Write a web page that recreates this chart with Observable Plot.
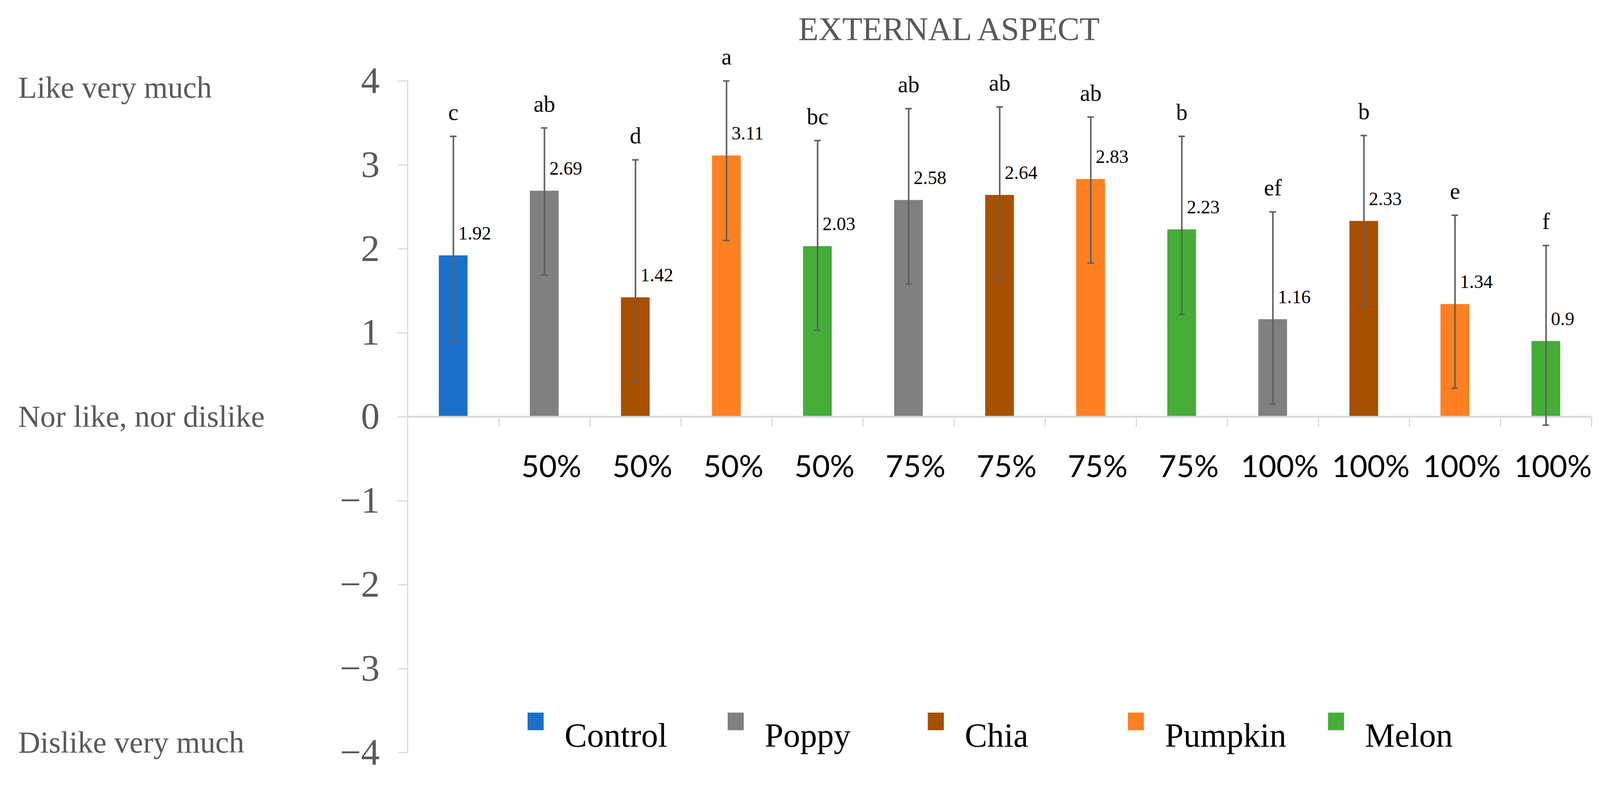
<!DOCTYPE html>
<html>
<head>
<meta charset="utf-8">
<script src="https://cdn.jsdelivr.net/npm/d3@7"></script>
<script src="https://cdn.jsdelivr.net/npm/@observablehq/plot@0.6"></script>
<style>
  html, body { margin: 0; padding: 0; background: white; overflow: hidden; }
  #chart svg { display: block; width: 100vw; height: auto; }
</style>
</head>
<body>
<div id="chart"></div>
<script>
// series (legend order) and colours
const series = ["Control", "Poppy", "Chia", "Pumpkin", "Melon"];
const seriesColors = ["#1a70c8", "#808080", "#a65000", "#ff8022", "#45ad38"];

// one entry per bar, left to right
const groups = ["Control", "Poppy", "Chia", "Pumpkin", "Melon", "Poppy", "Chia", "Pumpkin", "Melon", "Poppy", "Chia", "Pumpkin", "Melon"];
const levels = ["", "50%", "50%", "50%", "50%", "75%", "75%", "75%", "75%", "100%", "100%", "100%", "100%"];
const means = [1.92, 2.69, 1.42, 3.11, 2.03, 2.58, 2.64, 2.83, 2.23, 1.16, 2.33, 1.34, 0.9];
const errHigh = [3.34, 3.44, 3.06, 4.0, 3.29, 3.67, 3.69, 3.57, 3.34, 2.44, 3.35, 2.40, 2.04];
const errLow = [0.91, 1.69, 0.42, 2.10, 1.03, 1.58, 1.63, 1.83, 1.22, 0.15, 1.32, 0.34, -0.10];
const letters = ["c", "ab", "d", "a", "bc", "ab", "ab", "ab", "b", "ef", "b", "e", "f"];

// y axis
const yTicks = [-4, -3, -2, -1, 0, 1, 2, 3, 4];
const scaleLabels = ["Like very much", "Nor like, nor dislike", "Dislike very much"];
const scaleLevels = [4, 0, -4];

const title = "EXTERNAL ASPECT";

const ids = d3.range(means.length);
const table = ids.map(i => ({
  id: i, group: groups[i], level: levels[i], mean: means[i],
  hi: errHigh[i], lo: errLow[i], letter: letters[i]
}));

const W = 4182, H = 2009, mL = 1065, mR = 23, mT = 211;
const step = (W - mL - mR) / ids.length;
const grey = "#595959";
const barGrey = "#5f5f5f";
const light = "#d9d9d9";
const serif = "Liberation Serif, serif";

// legend items sit inside the frame, near the bottom
const legendLeft = i => 1379 + i * 523;
const legendText = series.map((s, i) =>
  Plot.text([s], {frameAnchor: "top-left", dx: legendLeft(i) + 96 - mL, dy: 1888 - mT, textAnchor: "start", fontSize: 88, fill: "black", fontFamily: serif})
);

const chart = Plot.plot({
  width: W,
  height: H,
  marginLeft: mL,
  marginRight: mR,
  marginTop: mT,
  marginBottom: 43,
  style: {fontFamily: serif, background: "white"},
  x: {domain: ids, paddingInner: 0.685, paddingOuter: 0.3425, axis: null},
  y: {domain: [-4, 4], axis: null},
  color: {domain: series, range: seriesColors},
  marks: [
    Plot.frame({anchor: "left", stroke: light, strokeWidth: 3}),
    Plot.axisY({ticks: yTicks, tickSize: 25, tickPadding: 48, fontSize: 98, fill: grey, stroke: light, strokeWidth: 3, label: null, fontFamily: serif}),
    // category separators under the zero line
    Plot.ruleX(ids, {x: d => d, y1: 0, y2: -0.12, dx: step / 2, stroke: light, strokeWidth: 3}),
    Plot.barY(table, {x: "id", y: "mean", fill: "group"}),
    Plot.ruleY([0], {stroke: light, strokeWidth: 5}),
    // error bars
    Plot.ruleX(table, {x: "id", y1: "lo", y2: "hi", stroke: barGrey, strokeWidth: 4}),
    Plot.tickY(table, {x: "id", y: "hi", stroke: barGrey, strokeWidth: 4, insetLeft: 29, insetRight: 29}),
    Plot.tickY(table, {x: "id", y: "lo", stroke: barGrey, strokeWidth: 4, insetLeft: 29, insetRight: 29}),
    // value labels
    Plot.text(table, {x: "id", y: "mean", text: d => String(d.mean), textAnchor: "start", dx: 13, dy: -58, fontSize: 49, fill: "black"}),
    // significance letters
    Plot.text(table, {x: "id", y: "hi", text: "letter", dy: -62, fontSize: 60, fill: "black"}),
    // treatment levels
    Plot.text(table.filter(d => d.level), {x: "id", y: 0, text: "level", dx: 18, dy: 132, fontSize: 80, fontFamily: "Lato, sans-serif", fill: "black"}),
    // hedonic scale labels at the left
    ...scaleLabels.map((s, i) => Plot.text([s], {
      y: () => scaleLevels[i], text: d => d, frameAnchor: "left", textAnchor: "start",
      dx: -1018, dy: [18, 0, -26][i], fontSize: 80, fill: grey
    })),
    Plot.text([title], {frameAnchor: "top", dx: -132, dy: -167, fontSize: 86, fill: grey}),
    ...legendText
  ]
});

// legend swatches
const lg = d3.select(chart).append("g");
series.forEach((s, i) => {
  lg.append("rect")
    .attr("x", legendLeft(i)).attr("y", 1862)
    .attr("width", 42).attr("height", 46)
    .attr("fill", seriesColors[i]);
});

document.getElementById("chart").append(chart);
</script>
</body>
</html>
